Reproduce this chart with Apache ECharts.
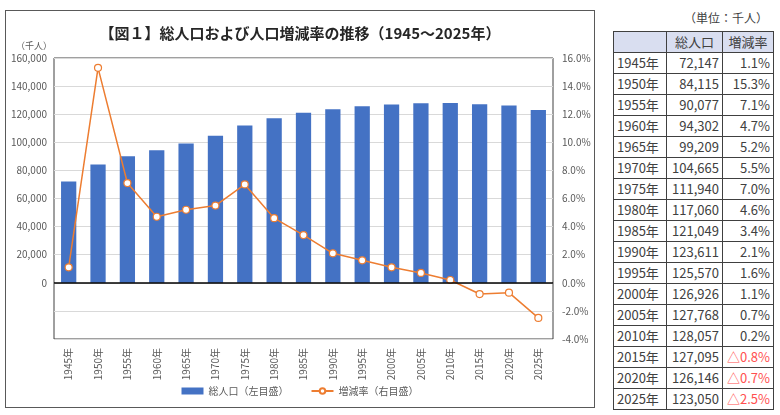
<!DOCTYPE html>
<html>
<head>
<meta charset="utf-8">
<script src="https://cdn.jsdelivr.net/npm/echarts@6/dist/echarts.min.js"></script>
<style>
  body { margin: 0; background: #fff; font-family: "Noto Sans CJK JP", "Noto Sans", sans-serif; }
  #frame { position: absolute; left: 5px; top: 10px; width: 588px; height: 396px; border: 1px solid #595959; }
  #chart { position: absolute; left: 0; top: 0; width: 600px; height: 415px; }
  #unit { position: absolute; left: 640px; top: 9px; width: 128px; text-align: right; font-size: 12px; color: #404040; }
  #tbl { position: absolute; left: 613px; top: 31px; border-collapse: collapse; font-size: 13px; color: #404040; }
  #tbl td, #tbl th { border: 1px solid #404040; height: 20px; padding: 0 3px; font-weight: normal; line-height: 20px; }
  #tbl th { background: #D9DEF0; text-align: center; }
  #tbl td.num { text-align: right; }
  #tbl td.neg { color: #FF5050; }
</style>
</head>
<body>
<div id="chart"></div>
<div id="frame"></div>
<div id="unit">（単位：千人）</div>
<table id="tbl"></table>
<script>
const years = ['1945年', '1950年', '1955年', '1960年', '1965年', '1970年', '1975年', '1980年', '1985年',
  '1990年', '1995年', '2000年', '2005年', '2010年', '2015年', '2020年', '2025年']
const population = [72147, 84115, 90077, 94302, 99209, 104665, 111940, 117060, 121049,
  123611, 125570, 126926, 127768, 128057, 127095, 126146, 123050]
const changeRate = [1.1, 15.3, 7.1, 4.7, 5.2, 5.5, 7.0, 4.6, 3.4, 2.1, 1.6, 1.1, 0.7, 0.2, -0.8, -0.7, -2.5]

// table on the right
const tbl = document.getElementById('tbl')
let html = '<tr><th style="width:46px"></th><th style="width:49px">総人口</th><th style="width:44px">増減率</th></tr>'
years.forEach((y, i) => {
  const r = changeRate[i]
  const rText = r < 0 ? '△' + Math.abs(r).toFixed(1) + '%' : r.toFixed(1) + '%'
  html += '<tr><td>' + y + '</td><td class="num">' + population[i].toLocaleString('en-US') +
    '</td><td class="num' + (r < 0 ? ' neg' : '') + '">' + rText + '</td></tr>'
})
tbl.innerHTML = html

const chart = echarts.init(document.getElementById('chart'))
const labelColor = '#595959'

const option = {
  animation: false,
  textStyle: { fontFamily: '"Noto Sans CJK JP", sans-serif' },
  title: {
    text: '【図１】総人口および人口増減率の推移（1945～2025年）',
    left: 'center',
    top: 21,
    textStyle: { fontSize: 15, fontWeight: 'bold', color: '#262626' }
  },
  grid: {
    left: 54, top: 58, width: 499, height: 281,
    show: true, borderColor: '#404040', borderWidth: 1
  },
  legend: {
    bottom: 14,
    left: 'center',
    itemGap: 22,
    itemWidth: 22,
    itemHeight: 7,
    textStyle: { fontSize: 10, color: labelColor },
    data: [{ name: '総人口（左目盛）', icon: 'rect' }, { name: '増減率（右目盛）' }]
  },
  xAxis: {
    type: 'category',
    data: years,
    axisLine: { show: false },
    axisTick: { show: false },
    axisLabel: { rotate: 90, fontSize: 10, color: labelColor, margin: 9 }
  },
  yAxis: [
    {
      type: 'value',
      min: -40000, max: 160000, interval: 20000,
      name: '（千人）',
      nameGap: 8,
      nameTextStyle: { fontSize: 9, color: labelColor, align: 'right', padding: [0, 2, 0, 0] },
      axisLine: { show: false },
      axisTick: { show: false },
      axisLabel: {
        fontSize: 10, color: labelColor, margin: 7,
        formatter: v => v < 0 ? '' : v.toLocaleString('en-US')
      },
      splitLine: { lineStyle: { color: '#D9D9D9' } }
    },
    {
      type: 'value',
      min: -4, max: 16, interval: 2,
      axisLine: { show: false },
      axisTick: { show: false },
      axisLabel: { fontSize: 10, color: labelColor, margin: 9, formatter: v => v.toFixed(1) + '%' },
      splitLine: { show: false }
    }
  ],
  series: [
    {
      name: '総人口（左目盛）',
      type: 'bar',
      data: population,
      barWidth: '52%',
      itemStyle: { color: '#4472C4' },
      markLine: {
        silent: true,
        symbol: 'none',
        label: { show: false },
        lineStyle: { color: '#000', type: 'solid', width: 1.5 },
        data: [{ yAxis: 0 }]
      }
    },
    {
      name: '増減率（右目盛）',
      type: 'line',
      yAxisIndex: 1,
      data: changeRate,
      symbol: 'circle',
      symbolSize: 7,
      lineStyle: { color: '#ED7D31', width: 1.5 },
      itemStyle: { color: '#fff', borderColor: '#ED7D31', borderWidth: 1.2 }
    }
  ]
}
chart.setOption(option)
</script>
</body>
</html>
